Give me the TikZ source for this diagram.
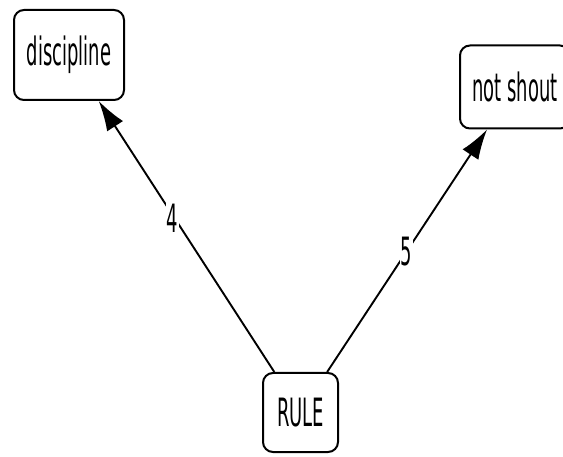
\documentclass[tikz,border=0pt]{standalone}
\usepackage{fontspec}
\usepackage{graphicx}
\setmainfont{DejaVu Sans}
\usetikzlibrary{arrows.meta}
\newcommand{\sqz}[1]{\scalebox{0.46}[1]{#1}}
\tikzset{
  box/.style={draw, line width=2pt, rounded corners=10pt, fill=white, inner sep=0pt,
    font=\fontsize{39}{42}\selectfont},
  arr/.style={line width=1.9pt, -{Latex[length=30pt,width=19pt]}},
  lab/.style={fill=white, inner sep=1pt, font=\fontsize{39}{42}\selectfont}
}
\begin{document}
\begin{tikzpicture}[x=1pt,y=1pt]
\useasboundingbox (0,0) rectangle (563,-457);
\node[box, minimum width=110pt, minimum height=90pt] (disc) at (69,-55) {\sqz{discipline}};
\node[box, minimum width=110pt, minimum height=83pt] (shout) at (515,-87) {\sqz{not shout}};
\node[box, minimum width=75pt, minimum height=79pt] (rule) at (300.5,-412.5) {\sqz{RULE}};
\draw[arr] (rule) -- node[lab, pos=0.568, xshift=-2pt] (l4) {\sqz{4}} (disc);
\draw[arr] (rule) -- node[lab, pos=0.496] (l5) {\sqz{5}} (shout);
\end{tikzpicture}
\end{document}
